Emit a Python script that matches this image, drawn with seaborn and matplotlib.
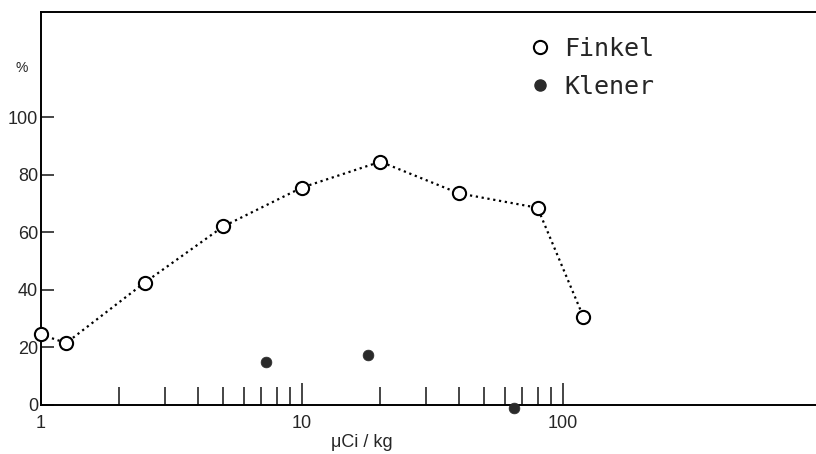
import numpy as np
import pandas as pd
import seaborn as sns
import matplotlib
matplotlib.use("Agg")
import matplotlib.pyplot as plt
from matplotlib.ticker import FixedLocator, NullFormatter
from matplotlib.lines import Line2D

# Dose (µCi/kg) and response (%) for the two series
finkel_dose = [1.0, 1.25, 2.5, 5.0, 10.0, 20.0, 40.0, 80.0, 120.0]
finkel_pct = [24.5, 21.5, 42.5, 62.0, 75.5, 84.5, 73.5, 68.5, 30.5]

klener_dose = [7.3, 18.0, 65.0]
klener_pct = [15.0, 17.5, -1.0]

x_major = [1, 10, 100]
x_major_labels = ["1", "10", "100"]
x_minor = [2, 3, 4, 5, 6, 7, 8, 9, 20, 30, 40, 50, 60, 70, 80, 90]
y_ticks = [0, 20, 40, 60, 80, 100]

sns.set_style("ticks")
plt.rcParams["font.family"] = ["Liberation Sans", "DejaVu Sans"]

fig = plt.figure(figsize=(8.16, 4.54), dpi=100)
ax = fig.add_axes([0.050, 0.108, 0.9596, 0.8656])

finkel = pd.DataFrame({"dose": finkel_dose, "pct": finkel_pct})
klener = pd.DataFrame({"dose": klener_dose, "pct": klener_pct})

sns.lineplot(data=finkel, x="dose", y="pct", ax=ax, color="black",
             linestyle=":", linewidth=1.6, marker="o", markersize=9.5,
             markerfacecolor="white", markeredgecolor="black",
             markeredgewidth=1.5, clip_on=False, zorder=3)
sns.scatterplot(data=klener, x="dose", y="pct", ax=ax, color="#2a2a2a",
                s=60, edgecolor="#2a2a2a", linewidth=0.5, clip_on=False,
                zorder=4)

ax.set_xscale("log")
ax.set_xlim(1, 1000)
ax.set_ylim(0, 136.5)

ax.xaxis.set_major_locator(FixedLocator(x_major))
ax.set_xticklabels(x_major_labels)
ax.xaxis.set_minor_locator(FixedLocator(x_minor))
ax.xaxis.set_minor_formatter(NullFormatter())
ax.tick_params(axis="x", which="major", direction="in", length=16,
               width=1.2, pad=7, labelsize=13, top=False)
ax.tick_params(axis="x", which="minor", direction="in", length=13,
               width=1.2, top=False)

ax.set_yticks(y_ticks)
ax.tick_params(axis="y", which="major", direction="in", length=9,
               width=1.2, pad=2, labelsize=13, right=False)

for side in ["left", "bottom", "top"]:
    ax.spines[side].set_linewidth(1.4)
    ax.spines[side].set_color("black")
ax.spines["right"].set_visible(False)

ax.set_xlabel("μCi / kg", fontsize=13, va="center")
ax.xaxis.set_label_coords(0.41, -0.096)
ax.set_ylabel("")
ax.text(-0.024, 117, "%", transform=ax.get_yaxis_transform(),
        fontsize=10, ha="center", va="center")

handles = [
    Line2D([], [], linestyle="none", marker="o", markersize=9.5,
           markerfacecolor="white", markeredgecolor="black",
           markeredgewidth=1.5),
    Line2D([], [], linestyle="none", marker="o", markersize=8,
           markerfacecolor="#2a2a2a", markeredgecolor="#2a2a2a"),
]
ax.legend(handles, ["Finkel", "Klener"], loc="upper left",
          bbox_to_anchor=(527 / 816, 1 - 37 / 454),
          bbox_transform=fig.transFigure, frameon=False,
          prop={"family": "DejaVu Sans Mono", "size": 18},
          handlelength=1.0, handletextpad=0.5, borderpad=0,
          borderaxespad=0, labelspacing=0.55)

fig.savefig("out.png", dpi=100)
